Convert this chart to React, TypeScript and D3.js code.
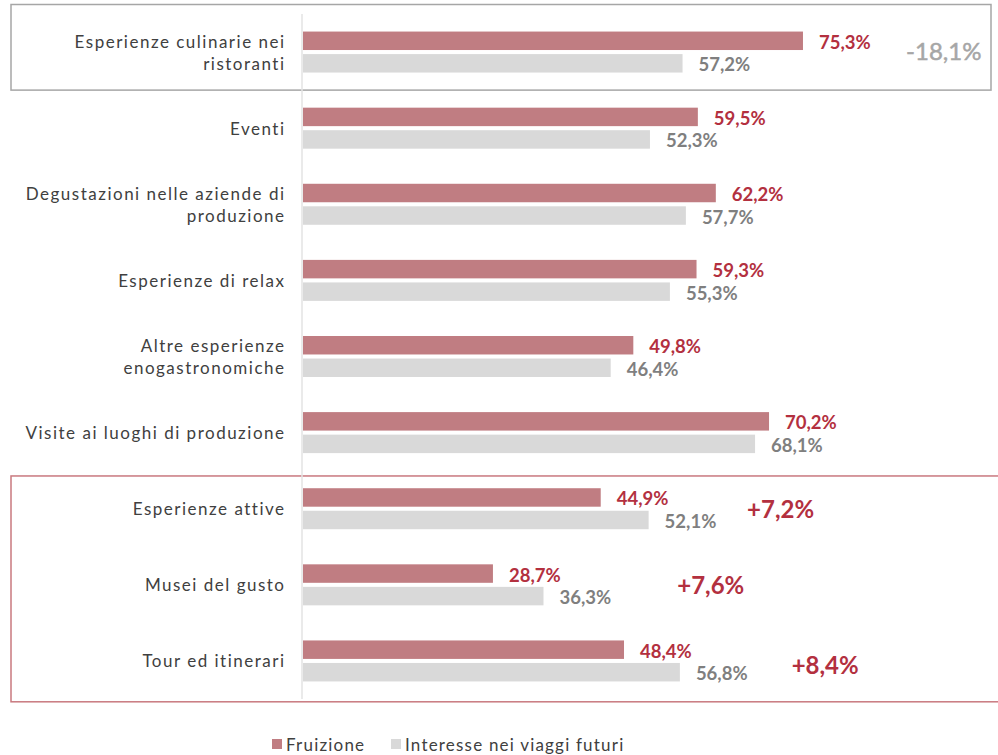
import React from "react";
import * as d3 from "d3";

const categories: string[][] = [
  ["Esperienze culinarie nei", "ristoranti"],
  ["Eventi"],
  ["Degustazioni nelle aziende di", "produzione"],
  ["Esperienze di relax"],
  ["Altre esperienze", "enogastronomiche"],
  ["Visite ai luoghi di produzione"],
  ["Esperienze attive"],
  ["Musei del gusto"],
  ["Tour ed itinerari"],
];
const fruizione = [75.3, 59.5, 62.2, 59.3, 49.8, 70.2, 44.9, 28.7, 48.4];
const interesse = [57.2, 52.3, 57.7, 55.3, 46.4, 68.1, 52.1, 36.3, 56.8];
const seriesNames = ["Fruizione", "Interesse nei viaggi futuri"];
// Annotations: category index, label, anchor value (in % units)
const deltaCat = [0, 6, 7, 8];
const deltaText = ["-18,1%", "+7,2%", "+7,6%", "+8,4%"];
const deltaAt = [90.8, 66.9, 56.4, 73.6];

const W = 998;
const H = 755;
const RED = "#c07d82";
const GRAY = "#d9d9d9";
const RED_TXT = "#b3303f";
const GRAY_TXT = "#7f7f7f";
const LABEL = "#404040";
const FONT = "Lato, 'Open Sans', sans-serif";

export default function App() {
  const keys = categories.map((_, i) => String(i));
  const y = d3.scaleBand<string>().domain(keys).range([14, 699]).padding(0);
  const sub = d3.scaleBand<number>().domain([0, 1]).range([-20.5, 20.5]).paddingInner(0.18);
  const x = d3.scaleLinear().domain([0, 100]).range([302, 967.3]);
  const series = [fruizione, interesse];
  const colors = [RED, GRAY];
  const txtColors = [RED_TXT, GRAY_TXT];
  const bw = y.bandwidth();
  const center = (i: number) => (y(String(i)) as number) + bw / 2;

  return (
    <svg
      width={W}
      height={H}
      style={{ position: "absolute", left: 0, top: 0, background: "#fff" }}
      fontFamily={FONT}
    >
      {/* highlight boxes */}
      <rect
        x={11}
        y={(y("0") as number) - 9.5}
        width={980}
        height={bw + 9.5}
        fill="none"
        stroke="#a6a6a6"
        strokeWidth={1.5}
      />
      <rect
        x={11}
        y={(y("6") as number) + 5.3}
        width={995}
        height={(y("8") as number) + bw - (y("6") as number) - 2.5}
        fill="none"
        stroke="#c9797f"
        strokeWidth={1.5}
      />
      {/* axis line */}
      <line x1={x(0)} x2={x(0)} y1={y.range()[0]} y2={y.range()[1]} stroke="#e3e3e3" strokeWidth={1.5} />

      {categories.map((lines, i) => {
        const c = center(i);
        return (
          <g key={i}>
            {series.map((vals, s) => {
              const by = c + (sub(s) as number);
              const bh = sub.bandwidth();
              return (
                <g key={s}>
                  <rect x={x(0) + 1} y={by} width={x(vals[i]) - x(0) - 1} height={bh} fill={colors[s]} />
                  <text
                    x={x(vals[i]) + 16}
                    y={by + bh / 2 + 1}
                    dominantBaseline="central"
                    fontSize={18.5}
                    fontWeight={700}
                    fill={txtColors[s]}
                  >
                    {vals[i].toFixed(1).replace(".", ",")}%
                  </text>
                </g>
              );
            })}
            <text textAnchor="end" fontSize={17} fill={LABEL} letterSpacing={1.5}>
              {lines.map((ln, k) => (
                <tspan
                  key={k}
                  x={285.5}
                  y={c + (k - (lines.length - 1) / 2) * 22}
                  dominantBaseline="central"
                >
                  {ln}
                </tspan>
              ))}
            </text>
          </g>
        );
      })}

      {deltaCat.map((ci, k) => (
        <text
          key={k}
          x={x(deltaAt[k])}
          y={center(ci) + (k === 0 ? -2 : k === 3 ? 4 : 0)}
          dominantBaseline="central"
          fontSize={24}
          fontWeight={k === 0 ? 400 : 700}
          fill={k === 0 ? "#a6a6a6" : RED_TXT}
          stroke={k === 0 ? "#a6a6a6" : "none"}
          strokeWidth={k === 0 ? 0.5 : 0}
        >
          {deltaText[k]}
        </text>
      ))}

      {/* legend */}
      {seriesNames.map((name, s) => {
        const lx = s === 0 ? 272 : 391;
        return (
          <g key={s}>
            <rect x={lx} y={739} width={10} height={10} fill={colors[s]} />
            <text x={lx + 14} y={744} dominantBaseline="central" fontSize={17} fill={LABEL} letterSpacing={1.2}>
              {name}
            </text>
          </g>
        );
      })}
    </svg>
  );
}
